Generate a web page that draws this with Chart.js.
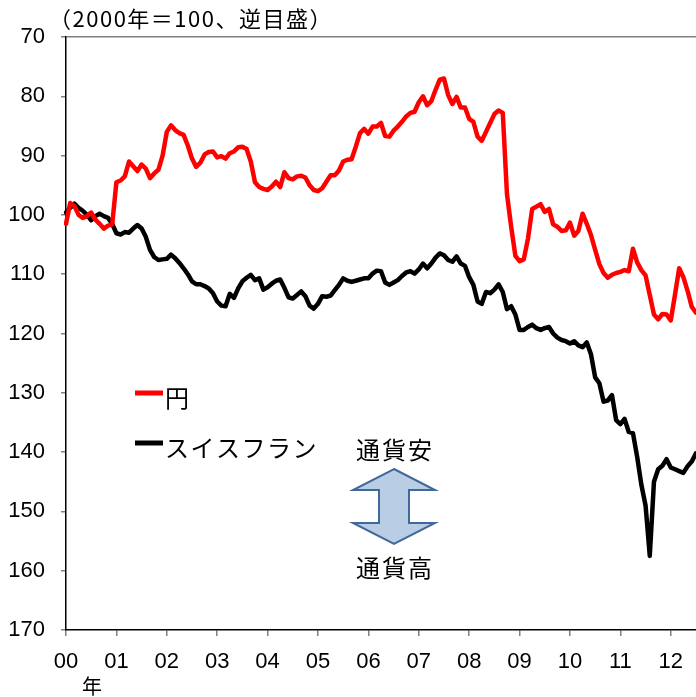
<!DOCTYPE html>
<html>
<head>
<meta charset="utf-8">
<script src="https://cdn.jsdelivr.net/npm/chart.js@4/dist/chart.umd.min.js"></script>
<style>
  body { margin: 0; background: #fff; }
  #wrap { width: 696px; height: 697px; position: relative; }
</style>
</head>
<body>
<div id="wrap"><canvas id="fxChart"></canvas></div>
<script>
// monthly data, Jan 2000 .. Jul 2012 (2000 = 100, inverted scale)
var months = [];
for (var yr = 2000; yr <= 2012; yr++) {
    for (var mo = 1; mo <= 12; mo++) {
        if (yr === 2012 && mo > 7) break;
        months.push(yr + '-' + (mo < 10 ? '0' + mo : mo));
    }
}

var yen = [
    101.5, 98.0, 98.5, 100.0, 100.5, 100.2, 99.6, 100.8, 101.5, 102.3, 101.8, 101.6,
    94.5, 94.2, 93.5, 91.0, 91.8, 92.6, 91.5, 92.2, 93.8, 93.0, 92.4, 90.0,
    86.0, 84.9, 85.7, 86.2, 86.5, 88.3, 90.5, 91.9, 91.2, 89.8, 89.4, 89.3,
    90.3, 90.1, 90.5, 89.6, 89.3, 88.6, 88.5, 88.9, 91.0, 94.5, 95.3, 95.6,
    95.8, 95.2, 94.4, 95.3, 92.8, 93.8, 94.0, 93.5, 93.4, 93.7, 95.0, 95.8,
    96.0, 95.5, 94.4, 93.3, 93.3, 92.5, 91.0, 90.7, 90.6, 88.5, 86.2, 85.5,
    86.3, 85.1, 85.1, 84.5, 86.7, 86.8, 85.8, 85.1, 84.3, 83.4, 82.8, 82.6,
    81.0, 80.0, 81.5, 80.8, 78.9, 77.2, 77.0, 79.8, 81.3, 80.1, 81.9, 81.9,
    83.8, 84.3, 86.8, 87.5, 86.0, 84.5, 83.0, 82.4, 82.8, 96.5, 102.0, 106.9,
    107.8, 107.5, 104.0, 99.0, 98.6, 98.2, 99.5, 99.0, 101.6, 102.0, 102.7, 102.6,
    101.3, 103.5, 102.7, 99.8, 101.5, 103.4, 105.9, 108.3, 109.8, 110.6, 110.1, 109.8,
    109.6, 109.3, 109.5, 105.7, 108.0, 109.3, 110.2, 113.5, 116.8, 117.6, 116.7, 116.8,
    117.8, 113.5, 109.0, 110.5, 112.8, 115.5, 116.5
];

var chf = [
    99.6, 98.8, 98.1, 98.8, 99.3, 100.0, 100.9, 100.2, 99.8, 100.2, 100.5, 101.5,
    103.1, 103.3, 102.9, 103.0, 102.3, 101.7, 102.3, 103.7, 105.9, 107.1, 107.6, 107.5,
    107.4, 106.7, 107.3, 108.1, 109.0, 110.0, 111.2, 111.7, 111.7, 112.0, 112.4, 113.2,
    114.6, 115.3, 115.4, 113.3, 114.0, 112.4, 111.2, 110.6, 110.1, 111.0, 110.7, 112.6,
    112.2, 111.6, 111.1, 110.9, 112.3, 113.9, 114.1, 113.5, 112.9, 113.7, 115.3, 115.8,
    115.0, 113.7, 113.8, 113.6, 112.7, 111.8, 110.7, 111.1, 111.3, 111.1, 110.9, 110.7,
    110.7, 109.9, 109.4, 109.5, 111.4, 111.8, 111.4, 111.0, 110.3, 109.7, 109.5, 109.9,
    109.2, 108.2, 109.0, 108.2, 107.2, 106.5, 106.8, 107.6, 107.9, 107.0, 108.2, 108.6,
    110.5, 111.8, 114.6, 115.0, 113.0, 113.2, 112.6, 111.7, 113.0, 115.9, 115.4, 116.8,
    119.4, 119.4, 118.9, 118.5, 119.1, 119.4, 119.1, 118.9, 120.0, 120.7, 121.1, 121.3,
    121.7, 121.3, 122.0, 122.3, 121.5, 123.5, 127.4, 128.4, 131.5, 131.3, 130.4, 134.6,
    135.3, 134.4, 136.6, 136.8, 140.8, 145.5, 149.0, 157.5, 145.0, 142.9, 142.3, 141.2,
    142.6, 142.9, 143.2, 143.5, 142.4, 141.6, 140.2
];

var seriesNames = ['円', 'スイスフラン'];
var seriesColors = ['#ff0000', '#000000'];

var numFont = "'Liberation Sans', Arial, sans-serif";
var jpFont = "'Noto Sans CJK JP', sans-serif";

// title, legend, arrow and labels drawn on top
var overlay = {
    id: 'overlay',
    afterDraw: function (chart) {
        var ctx = chart.ctx;
        ctx.save();
        ctx.fillStyle = '#000';
        ctx.textBaseline = 'middle';

        ctx.font = '22px ' + jpFont;
        ctx.letterSpacing = '1.5px';
        ctx.textAlign = 'left';
        ctx.fillText('（2000年＝100、逆目盛）', 49, 19);

        ctx.letterSpacing = '0px';
        ctx.font = '20px ' + jpFont;
        ctx.textAlign = 'center';
        ctx.fillText('年', 92, 686);

        // legend inside the plot
        var legendY = [393, 443];
        chart.data.datasets.forEach(function (ds, i) {
            ctx.strokeStyle = ds.borderColor;
            ctx.lineWidth = 5;
            ctx.beginPath();
            ctx.moveTo(135, legendY[i]);
            ctx.lineTo(163, legendY[i]);
            ctx.stroke();
            ctx.fillStyle = '#000';
            ctx.font = '24px ' + jpFont;
            ctx.letterSpacing = '1.5px';
            ctx.textAlign = 'left';
            ctx.fillText(ds.label, 165, legendY[i] + 5);
        });

        // double arrow
        var cx = 394;
        ctx.beginPath();
        ctx.moveTo(cx, 469);
        ctx.lineTo(435, 490);
        ctx.lineTo(409, 490);
        ctx.lineTo(409, 523);
        ctx.lineTo(435, 523);
        ctx.lineTo(cx, 544);
        ctx.lineTo(353, 523);
        ctx.lineTo(379, 523);
        ctx.lineTo(379, 490);
        ctx.lineTo(353, 490);
        ctx.closePath();
        ctx.fillStyle = '#b9cde5';
        ctx.fill();
        ctx.strokeStyle = '#41689a';
        ctx.lineWidth = 2;
        ctx.stroke();

        ctx.fillStyle = '#000';
        ctx.font = '24px ' + jpFont;
        ctx.letterSpacing = '2px';
        ctx.textAlign = 'center';
        ctx.fillText('通貨安', cx + 1, 450);
        ctx.fillText('通貨高', cx + 1, 568);
        ctx.restore();
    }
};

var ctx = document.getElementById('fxChart').getContext('2d');

var myChart = new Chart(ctx, {
    type: 'line',
    data: {
        labels: months,
        datasets: [
            { label: seriesNames[0], data: yen, borderColor: seriesColors[0], borderWidth: 4.5 },
            { label: seriesNames[1], data: chf, borderColor: seriesColors[1], borderWidth: 4.5 }
        ]
    },
    options: {
        responsive: true,
        maintainAspectRatio: false,
        animation: false,
        layout: { padding: { top: 37, right: 0, bottom: 0, left: 0 } },
        elements: {
            point: { radius: 0 },
            line: { tension: 0, borderJoinStyle: 'round', borderCapStyle: 'round' }
        },
        plugins: {
            legend: { display: false },
            tooltip: { enabled: false }
        },
        scales: {
            x: {
                offset: false,
                afterBuildTicks: function (scale) {
                    scale.ticks = scale.ticks.filter(function (t) { return t.value % 12 === 0; });
                },
                afterFit: function (scale) { scale.height = 67; },
                ticks: {
                    autoSkip: false,
                    maxRotation: 0,
                    padding: 13,
                    color: '#000',
                    font: { family: numFont, size: 22 },
                    callback: function (v) { return months[v].slice(2, 4); }
                },
                grid: { drawOnChartArea: false, tickLength: 6, tickColor: '#808080', lineWidth: 1.5 },
                border: { color: '#000', width: 1.5 }
            },
            y: {
                reverse: true,
                min: 70,
                max: 170,
                afterFit: function (scale) { scale.width = 66; },
                ticks: {
                    stepSize: 10,
                    padding: 16,
                    color: '#000',
                    font: { family: numFont, size: 22 }
                },
                grid: {
                    tickLength: 5,
                    tickColor: '#808080',
                    lineWidth: 1.5,
                    color: function (c) { return c.tick && c.tick.value === 70 ? '#808080' : 'rgba(0,0,0,0)'; }
                },
                border: { color: '#000', width: 1.5 }
            }
        }
    },
    plugins: [overlay]
});
</script>
</body>
</html>
